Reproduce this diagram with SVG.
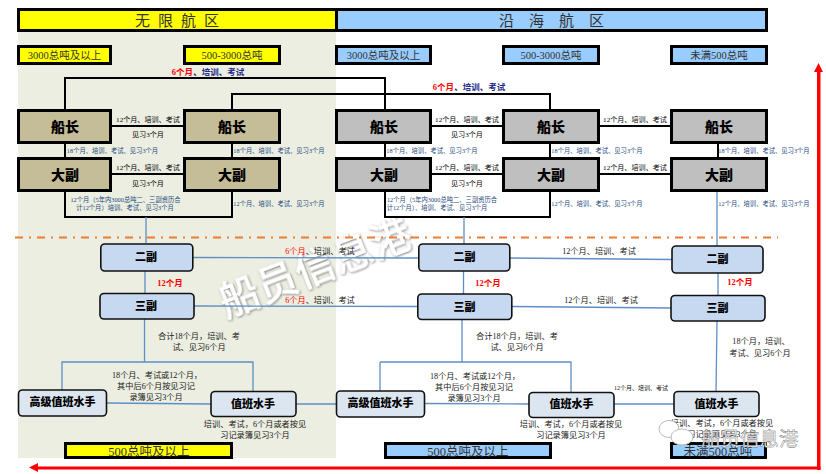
<svg xmlns="http://www.w3.org/2000/svg" width="826" height="474" viewBox="0 0 826 474">
<defs><filter id="sh" x="-10%" y="-30%" width="120%" height="160%"><feDropShadow dx="0.500" dy="1" stdDeviation="0.800" flood-color="#777"/></filter></defs>
<style>
text{font-family:"Liberation Serif","Noto Sans CJK SC",serif;text-anchor:middle;fill:#111}
.hd{font-size:15px;fill:#333}
.chip{font-size:10.500px;fill:#333}
.bot{font-size:12.500px;fill:#333}
.y{fill:#ff0;stroke:#000;stroke-width:3}
.b{fill:#9cf;stroke:#000;stroke-width:3}
.t{fill:#c4bd97;stroke:#000;stroke-width:3}
.g{fill:#bfbfbf;stroke:#000;stroke-width:3}
.n{fill:#c6d9f1;stroke:#111;stroke-width:1.600}
.s{fill:#dce6f1;stroke:#111;stroke-width:1.600}
.big{font-size:14px;font-weight:900;fill:#000;font-family:"Noto Sans CJK SC",sans-serif}
.mid{font-size:11px;font-weight:900;fill:#000;font-family:"Noto Sans CJK SC",sans-serif}
.k{fill:none;stroke:#000;stroke-width:2}
.l{fill:none;stroke:#5f8fc4;stroke-width:1.300}
.c{font-size:7.100px;fill:#000}
.e{font-size:6.300px;fill:#1f4a80}
.f{font-size:8.200px;fill:#222}
.r{fill:#f00;font-weight:700}
.u{fill:#1f2a8c;font-weight:700}
.a{font-size:8.500px}
.w{font-family:"Noto Sans CJK SC",sans-serif;text-anchor:start}
</style>
<rect x="18" y="32" width="318" height="426" fill="#ebeee0"/>
<text class="w" transform="translate(226 317) rotate(-21)" font-size="39.500" filter="url(#sh)" style="fill:#fff;stroke:#fff;stroke-width:1;letter-spacing:1px">船员信息港</text>
<g id="connectors">
<path class="k" d="M65 109V78H385V109M232 109V94H550V109"/>
<path class="k" d="M111 126H183M111 174H183M65 143V157M232 143V157M65 191V217H232V191M431 126H502M599 126H671M431 174H502M599 174H671M385 143V157M550 143V157M718 143V157M385 191V217H550V191"/>
<path class="l" d="M146 217V243M464 217V244M717 191V246M193 257.500L418 258M194 306L417 306.500M510 258L672 259.500M512 306.500L671 308M145 271V293M463.500 271V294M718 273V295M144.500 319V362M62 390V362H253V392M462 319V362H571V392M380 362H462M380 362V391M717 321L716 392M106 403L211 404M296 404H336M424 403.500L529 404M614 404H674"/>
</g>
<path d="M15 237.500H778" stroke="#ed7d31" stroke-width="2" stroke-dasharray="8 6 2 6" fill="none"/>
<g id="hdr-unlimited"><rect class="y" x="18.500" y="9.500" width="318" height="21"/><text class="hd" x="181" y="26" letter-spacing="8">无限航区</text></g>
<g id="hdr-coastal"><rect class="b" x="336.500" y="9.500" width="430" height="21"/><text class="hd" x="559" y="26" letter-spacing="15">沿海航区</text></g>
<g id="t1"><rect class="y" x="18.500" y="46.500" width="92" height="17"/><text class="chip" x="64.500" y="59">3000总吨及以上</text></g>
<g id="t2"><rect class="y" x="184.500" y="46.500" width="95" height="17"/><text class="chip" x="232" y="59">500-3000总吨</text></g>
<g id="t3"><rect class="b" x="336.500" y="46.500" width="94" height="17"/><text class="chip" x="383.500" y="59">3000总吨及以上</text></g>
<g id="t4"><rect class="b" x="503.500" y="46.500" width="95" height="17"/><text class="chip" x="551" y="59">500-3000总吨</text></g>
<g id="t5"><rect class="b" x="671.500" y="46.500" width="95" height="17"/><text class="chip" x="719" y="59">未满500总吨</text></g>
<g id="cap1"><rect class="t" x="18.500" y="110.500" width="92" height="32"/><text class="big" x="65" y="132">船长</text></g>
<g id="cap2"><rect class="t" x="184.500" y="110.500" width="95" height="32"/><text class="big" x="232" y="132">船长</text></g>
<g id="cap3"><rect class="g" x="336.500" y="110.500" width="94" height="32"/><text class="big" x="384" y="132">船长</text></g>
<g id="cap4"><rect class="g" x="503.500" y="110.500" width="95" height="32"/><text class="big" x="551" y="132">船长</text></g>
<g id="cap5"><rect class="g" x="671.500" y="110.500" width="95" height="32"/><text class="big" x="719" y="132">船长</text></g>
<g id="mate1"><rect class="t" x="18.500" y="158.500" width="92" height="32"/><text class="big" x="65" y="180">大副</text></g>
<g id="mate2"><rect class="t" x="184.500" y="158.500" width="95" height="32"/><text class="big" x="232" y="180">大副</text></g>
<g id="mate3"><rect class="g" x="336.500" y="158.500" width="94" height="32"/><text class="big" x="384" y="180">大副</text></g>
<g id="mate4"><rect class="g" x="503.500" y="158.500" width="95" height="32"/><text class="big" x="551" y="180">大副</text></g>
<g id="mate5"><rect class="g" x="671.500" y="158.500" width="95" height="32"/><text class="big" x="719" y="180">大副</text></g>
<g id="second1"><rect class="n" x="100.800" y="244" width="92" height="27" rx="4"/><text class="mid" x="146" y="261">二副</text></g>
<g id="second2"><rect class="n" x="418.800" y="244" width="91" height="27" rx="4"/><text class="mid" x="464.500" y="261">二副</text></g>
<g id="second3"><rect class="n" x="672" y="246" width="91" height="27" rx="4"/><text class="mid" x="717.500" y="263">二副</text></g>
<g id="third1"><rect class="n" x="100" y="293.500" width="94" height="25.500" rx="4"/><text class="mid" x="146" y="310">三副</text></g>
<g id="third2"><rect class="n" x="417.800" y="294" width="94" height="25.500" rx="4"/><text class="mid" x="464.500" y="311">三副</text></g>
<g id="third3"><rect class="n" x="671" y="295.500" width="94" height="25.500" rx="4"/><text class="mid" x="717.500" y="312">三副</text></g>
<g id="ab1"><rect class="s" x="18.500" y="390" width="88" height="26" rx="4"/><text class="mid" x="62.500" y="406">高级值班水手</text></g>
<g id="ab2"><rect class="s" x="336.500" y="391" width="88" height="26" rx="4"/><text class="mid" x="380.500" y="407">高级值班水手</text></g>
<g id="os1"><rect class="s" x="211" y="391.500" width="85" height="25" rx="4"/><text class="mid" x="253" y="408">值班水手</text></g>
<g id="os2"><rect class="s" x="529" y="392.500" width="85" height="25" rx="4"/><text class="mid" x="571.500" y="408">值班水手</text></g>
<g id="os3"><rect class="s" x="674" y="391.500" width="85" height="25" rx="4"/><text class="mid" x="716.500" y="408">值班水手</text></g>
<g id="labels">
<text class="a" x="208" y="75"><tspan class="r">6个月</tspan><tspan class="u">、培训、考试</tspan></text>
<text class="a" x="469" y="90"><tspan class="r">6个月</tspan><tspan class="u">、培训、考试</tspan></text>
<text class="c" x="148" y="122">12个月、培训、考试</text><text class="c" x="148" y="137">见习3个月</text>
<text class="c" x="148" y="170">12个月、培训、考试</text><text class="c" x="148" y="186">见习3个月</text>
<text class="c" x="467" y="122">12个月、培训、考试</text><text class="c" x="467" y="137">见习3个月</text>
<text class="c" x="467" y="170">12个月、培训、考试</text><text class="c" x="467" y="186">见习3个月</text>
<text class="c" x="635" y="122">12个月、培训、考试</text><text class="c" x="635" y="170">12个月、培训、考试</text>
<text class="e" x="112.500" y="153">18个月、培训、考试、见习3个月</text>
<text class="e" x="279" y="153">18个月、培训、考试、见习3个月</text>
<text class="e" x="432" y="153">18个月、培训、考试、见习3个月</text>
<text class="e" x="597" y="153">18个月、培训、考试、见习3个月</text>
<text class="e" x="764" y="153">18个月、培训、考试、见习3个月</text>
<text class="e" x="125.500" y="202">12个月（5年内3000总吨二、三副资历合</text>
<text class="e" x="125" y="210">计12个月）培训、考试、见习3个月</text>
<text class="e" x="442" y="202">12个月（5年内3000总吨二、三副资历合</text>
<text class="e" x="437" y="210">计12个月）、培训、考试、见习3个月</text>
<text class="e" x="279" y="206">12个月、培训、考试、见习3个月</text>
<text class="e" x="597" y="206">12个月、培训、考试、见习3个月</text>
<text class="e" x="764" y="206">12个月、培训、考试、见习3个月</text>
<text class="f" x="320" y="254"><tspan fill="#f00">6个月</tspan>、培训、考试</text>
<text class="f" x="320" y="303"><tspan fill="#f00">6个月</tspan>、培训、考试</text>
<text class="f" x="599" y="254">12个月、培训、考试</text>
<text class="f" x="601" y="303">12个月、培训、考试</text>
<text class="a r" x="170" y="286">12个月</text>
<text class="a r" x="488" y="286">12个月</text>
<text class="a r" x="740" y="285">12个月</text>
<text class="f" x="199" y="339">合计18个月，培训、考</text><text class="f" x="199" y="350">试、见习6个月</text>
<text class="f" x="517" y="339">合计18个月，培训、考</text><text class="f" x="517" y="350">试、见习6个月</text>
<text class="f" x="761" y="344">18个月，培训、</text><text class="f" x="760" y="356">考试、见习6个月</text>
<text class="f" x="157" y="378">18个月、考试或12个月，</text><text class="f" x="156" y="389">其中后6个月按见习记</text><text class="f" x="156" y="400">录簿见习3个月</text>
<text class="f" x="475" y="379">18个月、考试或12个月，</text><text class="f" x="474" y="390">其中后6个月按见习记</text><text class="f" x="474" y="401">录簿见习3个月</text>
<text x="641" y="390" font-size="6">12个月、培训、考试</text>
<text class="f" x="255" y="427">培训、考试，6个月或者按见</text><text class="f" x="255" y="438">习记录簿见习3个月</text>
<text class="f" x="571" y="427">培训、考试，6个月或者按见</text><text class="f" x="571" y="438">习记录簿见习3个月</text>
<text class="f" x="722" y="426">培训、考试，6个月或者按见</text><text class="f" x="722" y="437">习记录簿见习3个月</text>
</g>
<g id="b1"><rect class="y" x="65.500" y="443.500" width="166" height="14"/><text class="bot" x="149" y="456">500总吨及以上</text></g>
<g id="b2"><rect class="b" x="385.500" y="443.500" width="165" height="14"/><text class="bot" x="468" y="456">500总吨及以上</text></g>
<g id="b3"><rect class="b" x="671.500" y="443.500" width="94" height="14"/><text class="bot" x="718" y="456">未满500总吨</text></g>
<g id="red-axes" fill="#f00">
<rect x="817" y="70" width="3.500" height="400"/><rect x="36" y="466.500" width="784.500" height="3"/>
<path d="M818.500 63L823 72H814ZM29 467.500L38 463V472Z"/>
</g>
<g id="logo" fill="#fff" stroke="#bbb" stroke-width="1"><ellipse cx="669" cy="429" rx="10" ry="8.500"/><ellipse cx="682" cy="437" rx="11" ry="8"/></g>
<text class="w" x="701" y="446" font-size="19.500" style="fill:#fff;stroke:#666;stroke-width:.4">船员信息港</text>
</svg>
